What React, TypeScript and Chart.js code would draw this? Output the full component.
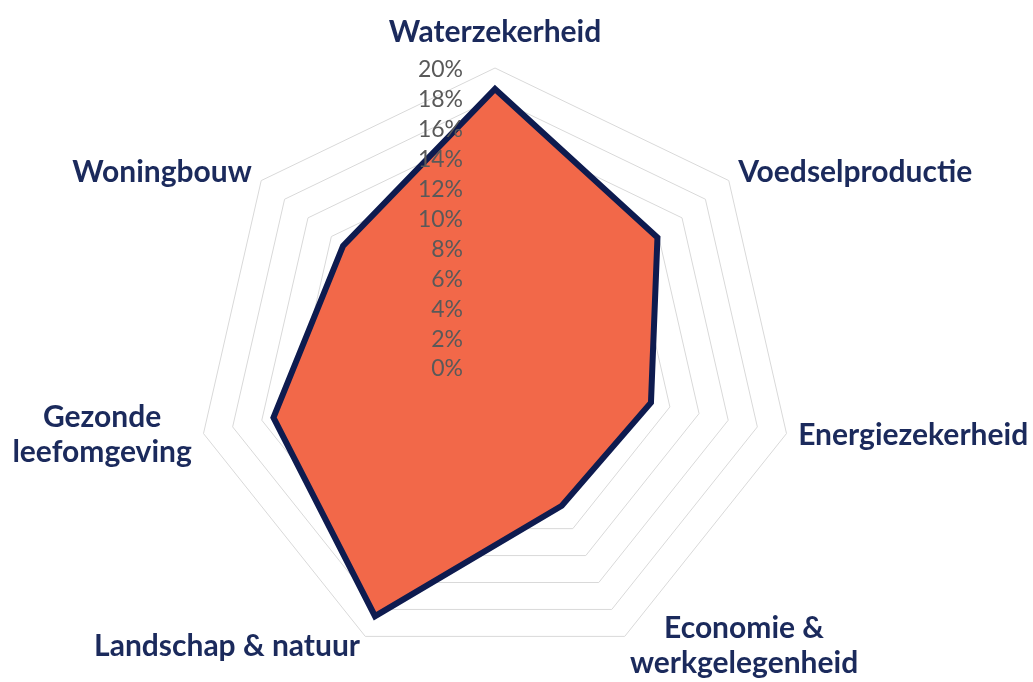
import React, { useEffect, useRef } from "react";
import { Chart, registerables } from "chart.js";

Chart.register(...registerables);

const categories: string[][] = [
  ["Waterzekerheid"],
  ["Voedselproductie"],
  ["Energiezekerheid"],
  ["Economie &", "werkgelegenheid"],
  ["Landschap & natuur"],
  ["Gezonde", "leefomgeving"],
  ["Woningbouw"],
];
const values: number[] = [18.6, 13.9, 10.7, 10.3, 18.5, 15.2, 13.0];
const tickMin = 0;
const tickMax = 20;
const tickStep = 2;

const NAVY = "#0E1B4F";
const LABEL_NAVY = "#1B2A5C";
const ORANGE = "#F26849";

const labelPlugin = {
  id: "customLabels",
  afterDatasetsDraw(chart: any) {
    const scale = chart.scales.r;
    const ctx: CanvasRenderingContext2D = chart.ctx;
    ctx.save();
    // tick labels
    ctx.font = "23px Lato";
    ctx.fillStyle = "#595959";
    ctx.textAlign = "right";
    ctx.textBaseline = "middle";
    scale.ticks.forEach((t: any) => {
      const d = scale.getDistanceFromCenterForValue(t.value);
      ctx.fillText(t.value + "%", scale.xCenter - 32, scale.yCenter - d + 2);
    });
    // point labels
    ctx.font = "bold 30px Lato";
    ctx.fillStyle = LABEL_NAVY;
    ctx.textAlign = "center";
    const lh = 35;
    categories.forEach((lines, i) => {
      const p = scale.getPointPosition(i, scale.drawingArea + 12);
      const hx = Math.cos(p.angle);
      const vy = Math.sin(p.angle);
      const bw = Math.max(...lines.map((l) => ctx.measureText(l).width));
      const bh = lines.length * lh;
      let left: number;
      if (hx > 0.05) left = p.x;
      else if (hx < -0.05) left = p.x - bw;
      else left = p.x - bw / 2;
      let middle: number;
      if (Math.abs(hx) <= 0.05) {
        middle = vy < 0 ? p.y - bh / 2 - 6 : p.y + bh / 2 + 6;
      } else {
        middle = p.y - 1;
      }
      lines.forEach((line, k) => {
        ctx.fillText(line, left + bw / 2, middle - bh / 2 + lh / 2 + k * lh);
      });
    });
    ctx.restore();
  },
};

export default function App() {
  const ref = useRef<HTMLCanvasElement | null>(null);
  useEffect(() => {
    if (!ref.current) return;
    const chart = new Chart(ref.current, {
      type: "radar",
      data: {
        labels: categories,
        datasets: [
          {
            data: values,
            backgroundColor: ORANGE,
            borderColor: NAVY,
            borderWidth: 6,
            borderJoinStyle: "miter",
            pointRadius: 0,
            fill: true,
          },
        ],
      },
      options: {
        responsive: false,
        animation: false,
        devicePixelRatio: 1,
        layout: { padding: { left: 196, top: 68, right: 239, bottom: 16 } },
        plugins: { legend: { display: false }, tooltip: { enabled: false } },
        scales: {
          r: {
            min: tickMin,
            max: tickMax,
            ticks: { stepSize: tickStep, display: false },
            grid: { color: "#D9D9D9", lineWidth: 1 },
            angleLines: { display: false },
            pointLabels: { display: false },
          },
        },
      },
      plugins: [labelPlugin],
    } as any);
    return () => chart.destroy();
  }, []);
  return (
    <div style={{ position: "absolute", left: 0, top: 0, width: 1033, height: 682, background: "#fff" }}>
      <canvas ref={ref} width={1033} height={682} />
    </div>
  );
}
